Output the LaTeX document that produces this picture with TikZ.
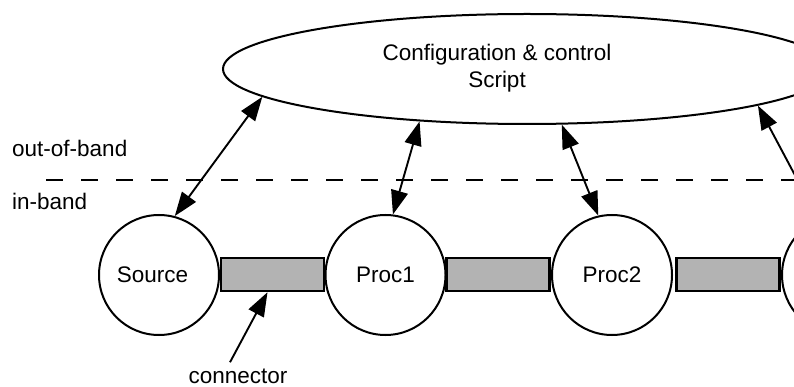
\documentclass[tikz,border=0pt]{standalone}
\usepackage{fontspec}
\setmainfont{Liberation Sans}
\usetikzlibrary{shapes.geometric,arrows.meta}
\definecolor{pipegray}{HTML}{B3B3B3}
\begin{document}
\begin{tikzpicture}[x=1pt,y=-1pt,
  every node/.style={font=\fontsize{22.5}{27}\selectfont},
  procnode/.style={circle,draw,line width=2pt,minimum size=120pt,inner sep=0pt},
  pipe/.style={rectangle,draw,line width=2.5pt,fill=pipegray,minimum width=103pt,minimum height=33pt,inner sep=0pt},
  dbl/.style={line width=1.9pt,{Triangle[length=24pt,width=17pt]}-{Triangle[length=24pt,width=17pt]}},
  sgl/.style={line width=1.9pt,-{Triangle[length=24pt,width=17pt]}},
  lbl/.style={inner sep=0pt}
]
\useasboundingbox (0,0) rectangle (794,387);
\clip (0,0) rectangle (794,387);

% band separator
\coordinate (dl) at (46,180);
\coordinate (dr) at (800,180);
\draw[line width=2pt,dash pattern=on 17pt off 18pt] (dl) -- (dr);

\node[lbl,anchor=base west] (oob) at (12,157) {out-of-band};
\node[lbl,anchor=base west] (ib) at (12,210) {in-band};

% script ellipse
\node[ellipse,draw,line width=2pt,minimum width=608pt,minimum height=110pt,inner sep=0pt] (cfg) at (527,69) {};
\node[lbl,align=center] (cfgtext) at (497,68) {Configuration \& control\\Script};

% processes
\node[procnode] (src) at (159,275) {Source\hspace*{13pt}};
\node[procnode] (p1) at (385.5,275) {Proc1};
\node[procnode] (p2) at (612,275) {Proc2};
\node[procnode] (p3) at (842,275) {};

% connectors
\node[pipe] (r1) at (272.5,274.5) {};
\node[pipe] (r2) at (498,274.5) {};
\node[pipe] (r3) at (728,274.5) {};

% control arrows
\draw[dbl] (cfg.186) -- (src.75);
\draw[dbl] (cfg.206) -- (p1.83);
\draw[dbl] (cfg.302) -- (p2.103);
\draw[dbl] (cfg.351) -- (p3.113);

% connector label
\node[lbl,anchor=base] (lab) at (238,383) {connector};
\draw[sgl] ([xshift=-8pt,yshift=6pt]lab.north) -- ([xshift=-5pt]r1.south);
\end{tikzpicture}
\end{document}
